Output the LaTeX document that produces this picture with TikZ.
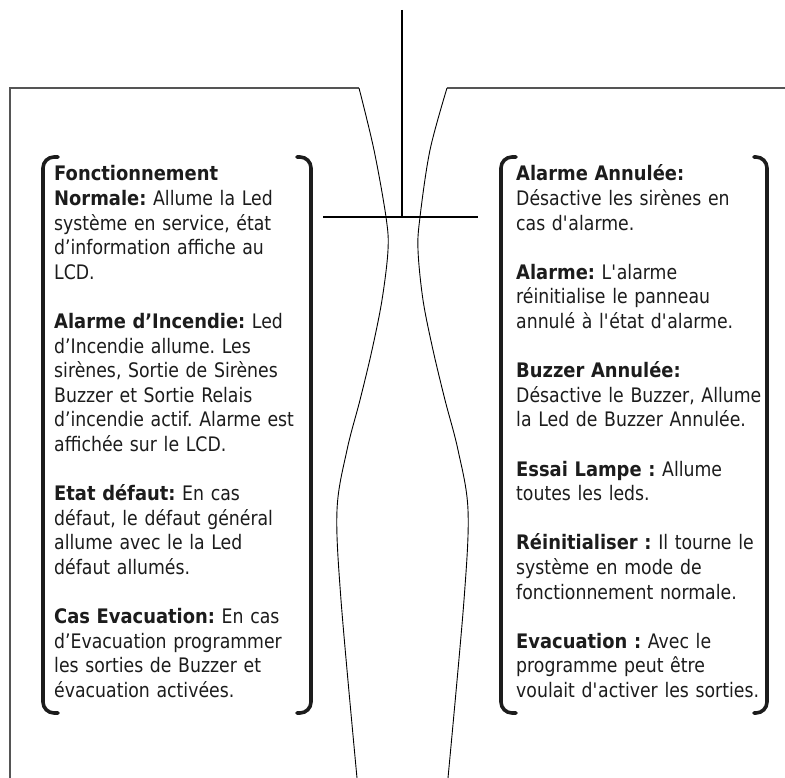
\documentclass[tikz,border=0pt]{standalone}
\usepackage{fontspec}
\setmainfont{DejaVu Sans}[FakeStretch=0.865, BoldFeatures={FakeStretch=0.895}]
\newcommand{\stq}{\textquotesingle}
\definecolor{panelgray}{HTML}{555555}
\definecolor{inkc}{HTML}{1C1C1C}
\tikzset{
  panelline/.style={draw=panelgray, line width=1.4pt},
  thinline/.style={draw=black, line width=0.9pt},
  crossline/.style={draw=black, line width=1.3pt},
  bracketline/.style={draw=inkc, line width=3.6pt, line cap=round, rounded corners=11pt},
  coltext/.style={anchor=base west, inner sep=0pt, text width=300pt, align=left,
    text=inkc, font=\fontsize{20}{24.6}\selectfont\frenchspacing}
}
\begin{document}
\begin{tikzpicture}[x=1pt,y=-1pt]
\useasboundingbox (0,0) rectangle (785,778);
\fill[white] (0,0) rectangle (785,778);

% panels
\draw[panelline] (10,778) -- (10,88) -- (359,88);
\draw[panelline] (447,88) -- (785,88);

% vase outline
\draw[thinline] plot[smooth, tension=0.55] coordinates {(359,88) (374,150) (386,217) (388,250) (382,300) (372,350) (360,400) (347,450) (337,510) (341,600) (357,778)};
\draw[thinline] plot[smooth, tension=0.55] coordinates {(447,88) (430,150) (420,217) (418,250) (423,300) (433,350) (445,400) (458,450) (468,510) (464,600) (448,778)};

% centre cross
\coordinate (ctop) at (402,10);
\coordinate (cmid) at (402,217);
\coordinate (hl) at (323,217);
\coordinate (hr) at (478,217);
\draw[crossline] (ctop) -- (cmid);
\draw[crossline] (hl) -- (hr);

% brackets
\draw[bracketline] (58,157) -- (43,157) -- (43,713) -- (58,713);
\draw[bracketline] (297,157) -- (311,157) -- (311,713) -- (297,713);
\draw[bracketline] (516,157) -- (501,157) -- (501,713) -- (516,713);
\draw[bracketline] (754,157) -- (767,157) -- (767,713) -- (754,713);

% left column
\node[coltext] (lefttext) at (54,181) {%
\textbf{Fonctionnement}\\
\textbf{Normale:} Allume la Led\\
système en service, état\\
d’information affiche au\\
LCD.\\[24.6pt]
\textbf{Alarme d’Incendie:} Led\\
d’Incendie allume. Les\\
sirènes, Sortie de Sirènes\\
Buzzer et Sortie Relais\\
d’incendie actif. Alarme est\\
affichée sur le LCD.\\[24.6pt]
\textbf{Etat défaut:} En cas\\
défaut, le défaut général\\
allume avec le la Led\\
défaut allumés.\\[24.6pt]
\textbf{Cas Evacuation:} En cas\\
d’Evacuation programmer\\
les sorties de Buzzer et\\
évacuation activées.};

% right column
\node[coltext] (righttext) at (516,181) {%
\textbf{Alarme Annulée:}\\
Désactive les sirènes en\\
cas d\stq alarme.\\[24.6pt]
\textbf{Alarme:} L\stq alarme\\
réinitialise le panneau\\
annulé à l\stq état d\stq alarme.\\[24.6pt]
\textbf{Buzzer Annulée:}\\
Désactive le Buzzer, Allume\\
la Led de Buzzer Annulée.\\[24.6pt]
\textbf{Essai Lampe :} Allume\\
toutes les leds.\\[24.6pt]
\textbf{Réinitialiser :} Il tourne le\\
système en mode de\\
fonctionnement normale.\\[24.6pt]
\textbf{Evacuation :} Avec le\\
programme peut être\\
voulait d\stq activer les sorties.};
\end{tikzpicture}
\end{document}
